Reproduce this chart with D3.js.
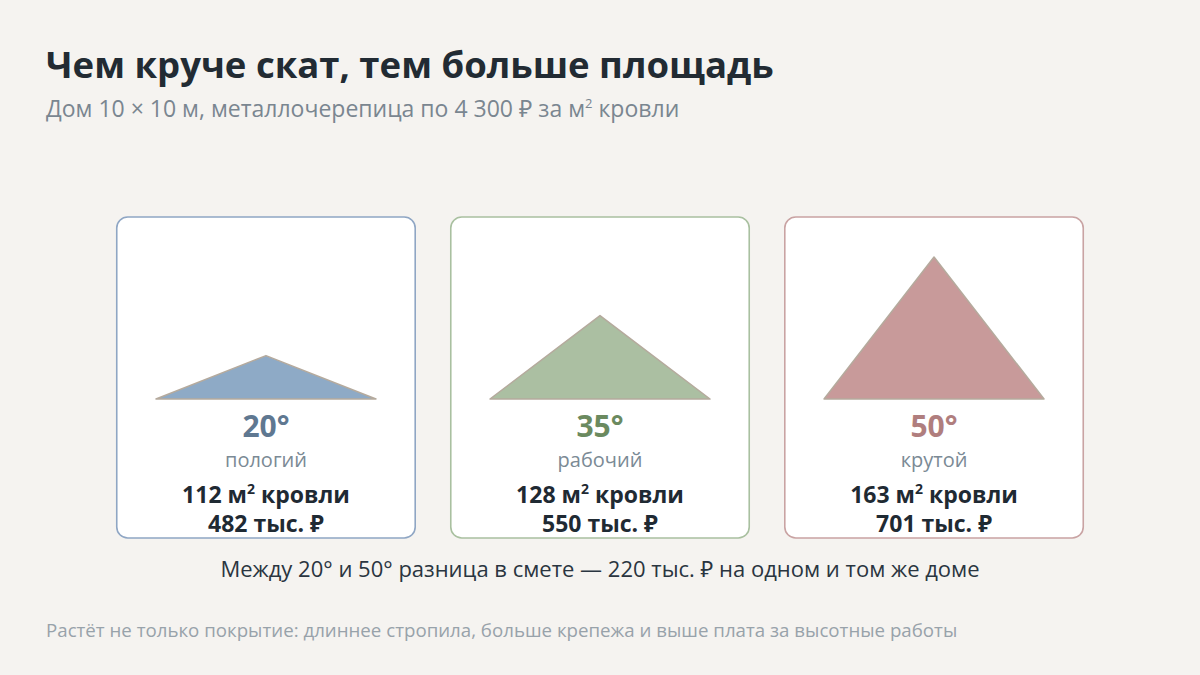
<!DOCTYPE html>
<html>
<head>
<meta charset="utf-8">
<script src="https://cdn.jsdelivr.net/npm/d3@7"></script>
<style>
  html, body { margin: 0; padding: 0; background: #f5f3f0; }
  svg { display: block; font-family: "Open Sans", "Noto Sans", sans-serif; }
</style>
</head>
<body>
<div id="chart"></div>
<script>
// roof pitch options for a 10 x 10 m house
var angles = [20, 35, 50];
var labels = ["пологий", "рабочий", "крутой"];
var areas = [112, 128, 163];          // m2 of roof
var costs = [482, 550, 701];          // тыс. ₽
var diff = 220;                       // тыс. ₽, as printed under the cards
var span = 10;                        // house width, m

var fills   = ["#8eaac6", "#abbfa2", "#c89a9a"];
var borders = ["#8fa6c4", "#a9c0a0", "#c9a3a3"];
var accents = ["#5f7891", "#6b8a5f", "#b07e7e"];

var width = 1200, height = 675;

var svg = d3.select("#chart")
  .append("svg")
  .attr("width", width)
  .attr("height", height);

svg.append("rect").attr("width", width).attr("height", height).attr("fill", "#f5f3f0");

svg.append("text")
  .attr("x", 46).attr("y", 78)
  .attr("font-size", 36.5).attr("font-weight", 700)
  .attr("fill", "#222b33")
  .text("Чем круче скат, тем больше площадь");

var sub = svg.append("text")
  .attr("x", 46).attr("y", 117)
  .attr("font-size", 23)
  .attr("fill", "#7a8690");
sub.append("tspan").text("Дом 10 × 10 м, металлочерепица по 4 300 ₽ за м");
sub.append("tspan").attr("font-size", 13).attr("dy", -9).text("2");
sub.append("tspan").attr("dy", 9).text(" кровли");

// cards
var cardX = d3.scaleBand()
  .domain(angles)
  .range([116, 1084])
  .paddingInner(0.102);

var cardTop = 217, cardH = 321;

// roof geometry: half-span horizontally, rise = (span/2)*tan(angle)
var x = d3.scaleLinear().domain([-span / 2, span / 2]).range([-110, 110]);
var y = d3.scaleLinear().domain([0, 6]).range([399, 256]);

var cards = svg.selectAll("g.card")
  .data(angles)
  .enter().append("g")
  .attr("class", "card")
  .attr("transform", function(d) { return "translate(" + cardX(d) + ",0)"; });

cards.append("rect")
  .attr("x", 0.75).attr("y", cardTop)
  .attr("width", cardX.bandwidth() - 1.5).attr("height", cardH)
  .attr("rx", 11)
  .attr("fill", "#ffffff")
  .attr("stroke", function(d, i) { return borders[i]; })
  .attr("stroke-width", 1.6);

var cx = cardX.bandwidth() / 2;

cards.append("path")
  .attr("d", function(d) {
    var rise = (span / 2) * Math.tan(d * Math.PI / 180);
    return "M" + (cx + x(-span / 2)) + "," + y(0) +
           "L" + (cx + x(0)) + "," + y(rise) +
           "L" + (cx + x(span / 2)) + "," + y(0) + "Z";
  })
  .attr("fill", function(d, i) { return fills[i]; })
  .attr("stroke", "#b5aa9d")
  .attr("stroke-width", 1.5)
  .attr("stroke-linejoin", "round");

cards.append("text")
  .attr("x", cx).attr("y", 437)
  .attr("text-anchor", "middle")
  .attr("font-size", 30).attr("font-weight", 700)
  .attr("fill", function(d, i) { return accents[i]; })
  .text(function(d) { return d + "°"; });

cards.append("text")
  .attr("x", cx).attr("y", 467)
  .attr("text-anchor", "middle")
  .attr("font-size", 20)
  .attr("fill", "#7b8a95")
  .text(function(d, i) { return labels[i]; });

var areaText = cards.append("text")
  .attr("x", cx).attr("y", 503)
  .attr("text-anchor", "middle")
  .attr("font-size", 23).attr("font-weight", 700)
  .attr("fill", "#1f2a33");
areaText.append("tspan").text(function(d, i) { return areas[i] + " м"; });
areaText.append("tspan").attr("font-size", 14).attr("dy", -9).text("2");
areaText.append("tspan").attr("dy", 9).text(" кровли");

cards.append("text")
  .attr("x", cx).attr("y", 532)
  .attr("text-anchor", "middle")
  .attr("font-size", 23).attr("font-weight", 700)
  .attr("fill", "#1f2a33")
  .text(function(d, i) { return costs[i] + " тыс. ₽"; });

svg.append("text")
  .attr("x", 600).attr("y", 577)
  .attr("text-anchor", "middle")
  .attr("font-size", 22)
  .attr("fill", "#2a3540")
  .text("Между " + angles[0] + "° и " + angles[2] + "° разница в смете — " +
        diff + " тыс. ₽ на одном и том же доме");

svg.append("text")
  .attr("x", 46).attr("y", 637)
  .attr("font-size", 18.7)
  .attr("fill", "#98a2aa")
  .text("Растёт не только покрытие: длиннее стропила, больше крепежа и выше плата за высотные работы");
</script>
</body>
</html>
